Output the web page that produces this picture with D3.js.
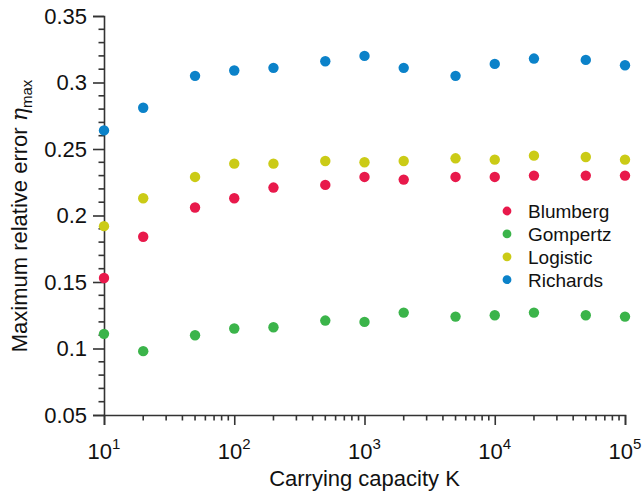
<!DOCTYPE html>
<html>
<head>
<meta charset="utf-8">
<script src="https://cdn.jsdelivr.net/npm/d3@7/dist/d3.min.js"></script>
<style>
  html, body { margin: 0; padding: 0; background: #fff; }
  svg { display: block; font-family: "Liberation Sans", Arial, Helvetica, sans-serif; }
</style>
</head>
<body>
<svg id="chart" width="643" height="494"></svg>
<script>
// Carrying capacities K at which each growth model was evaluated
const capacities = [10, 20, 50, 100, 200, 500, 1000, 2000, 5000, 10000, 20000, 50000, 100000];

// Maximum relative error for each model
const blumberg  = [0.153, 0.184, 0.206, 0.213, 0.221, 0.223, 0.229, 0.227, 0.229, 0.229, 0.230, 0.230, 0.230];
const gompertz  = [0.111, 0.098, 0.110, 0.115, 0.116, 0.121, 0.120, 0.127, 0.124, 0.125, 0.127, 0.125, 0.124];
const logistic  = [0.192, 0.213, 0.229, 0.239, 0.239, 0.241, 0.240, 0.241, 0.243, 0.242, 0.245, 0.244, 0.242];
const richards  = [0.264, 0.281, 0.305, 0.309, 0.311, 0.316, 0.320, 0.311, 0.305, 0.314, 0.318, 0.317, 0.313];

const seriesNames  = ["Blumberg", "Gompertz", "Logistic", "Richards"];
const seriesValues = [blumberg, gompertz, logistic, richards];
const seriesColors = ["#e8194b", "#3bb44a", "#cbcb16", "#0b82c9"];

const yTicks = [0.05, 0.1, 0.15, 0.2, 0.25, 0.3, 0.35];
const yTickLabels = ["0.05", "0.1", "0.15", "0.2", "0.25", "0.3", "0.35"];
const xTickExponents = [1, 2, 3, 4, 5];

const svg = d3.select("#chart");
const margin = { left: 104, right: 18, top: 16, bottom: 79 };
const W = 643, H = 494;

const x = d3.scaleLog().domain([10, 100000]).range([margin.left, W - margin.right]);
const y = d3.scaleLinear().domain([0.05, 0.35]).range([H - margin.bottom, margin.top]);

const axisColor = "#333";

// y axis: major ticks every 0.05, minor every 0.01
const yMinor = d3.range(5, 36).map(d => d / 100).filter(v => !yTicks.some(t => Math.abs(t - v) < 1e-9));
const yAxis = svg.append("g").attr("transform", `translate(${margin.left},0)`);
yAxis.call(d3.axisLeft(y).tickValues(yTicks).tickFormat((d, i) => yTickLabels[i]).tickSize(11).tickPadding(6));
yAxis.append("g").selectAll("line").data(yMinor).join("line")
  .attr("x1", 0).attr("x2", -5.5).attr("y1", d => y(d)).attr("y2", d => y(d));

// x axis: decades with minor ticks at 2..9
const xMinor = [];
for (let e = 1; e < 5; e++) for (let m = 2; m <= 9; m++) xMinor.push(m * Math.pow(10, e));
const xAxis = svg.append("g").attr("transform", `translate(0,${H - margin.bottom})`);
xAxis.call(d3.axisBottom(x).tickValues(xTickExponents.map(e => Math.pow(10, e))).tickFormat("").tickSize(10));
xAxis.append("g").selectAll("line").data(xMinor).join("line")
  .attr("y1", 0).attr("y2", 5.5).attr("x1", d => x(d)).attr("x2", d => x(d));

[yAxis, xAxis].forEach(g => {
  g.select(".domain").attr("stroke", axisColor).attr("stroke-width", 1.6);
  g.selectAll("line").attr("stroke", axisColor).attr("stroke-width", 1.6);
  g.selectAll("text").attr("fill", "#111").style("font-size", "22px");
});

// Power-of-ten labels
const xLab = svg.append("g").selectAll("text").data(xTickExponents).join("text")
  .attr("x", d => x(Math.pow(10, d)))
  .attr("y", H - margin.bottom + 44)
  .attr("text-anchor", "middle")
  .attr("fill", "#111")
  .style("font-size", "22px");
xLab.append("tspan").text("10");
xLab.append("tspan").text(d => d).attr("dy", -10).style("font-size", "15px");

// Axis titles
svg.append("text")
  .attr("x", (margin.left + W - margin.right) / 2)
  .attr("y", H - 8)
  .attr("text-anchor", "middle")
  .attr("fill", "#111")
  .style("font-size", "22px")
  .text("Carrying capacity K");

const yTitle = svg.append("text")
  .attr("transform", `translate(27,216) rotate(-90)`)
  .attr("text-anchor", "middle")
  .attr("fill", "#111")
  .style("font-size", "22px");
yTitle.append("tspan").text("Maximum relative error ");
yTitle.append("tspan").text("η").style("font-style", "italic").style("font-family", "'DejaVu Serif', serif");
yTitle.append("tspan").text("max").attr("dy", 5).style("font-size", "15px");

// Data points
seriesValues.forEach((vals, si) => {
  svg.append("g").selectAll("circle").data(vals).join("circle")
    .attr("cx", (d, i) => x(capacities[i]))
    .attr("cy", d => y(d))
    .attr("r", 5.2)
    .attr("fill", seriesColors[si]);
});

// Legend
const legend = svg.append("g").attr("transform", "translate(507,211)");
seriesNames.forEach((name, i) => {
  const row = legend.append("g").attr("transform", `translate(0,${i * 22.9})`);
  row.append("circle").attr("r", 4.4).attr("fill", seriesColors[i]);
  row.append("text").attr("x", 21).attr("y", 7).attr("fill", "#111")
    .style("font-size", "19px").text(name);
});
</script>
</body>
</html>
